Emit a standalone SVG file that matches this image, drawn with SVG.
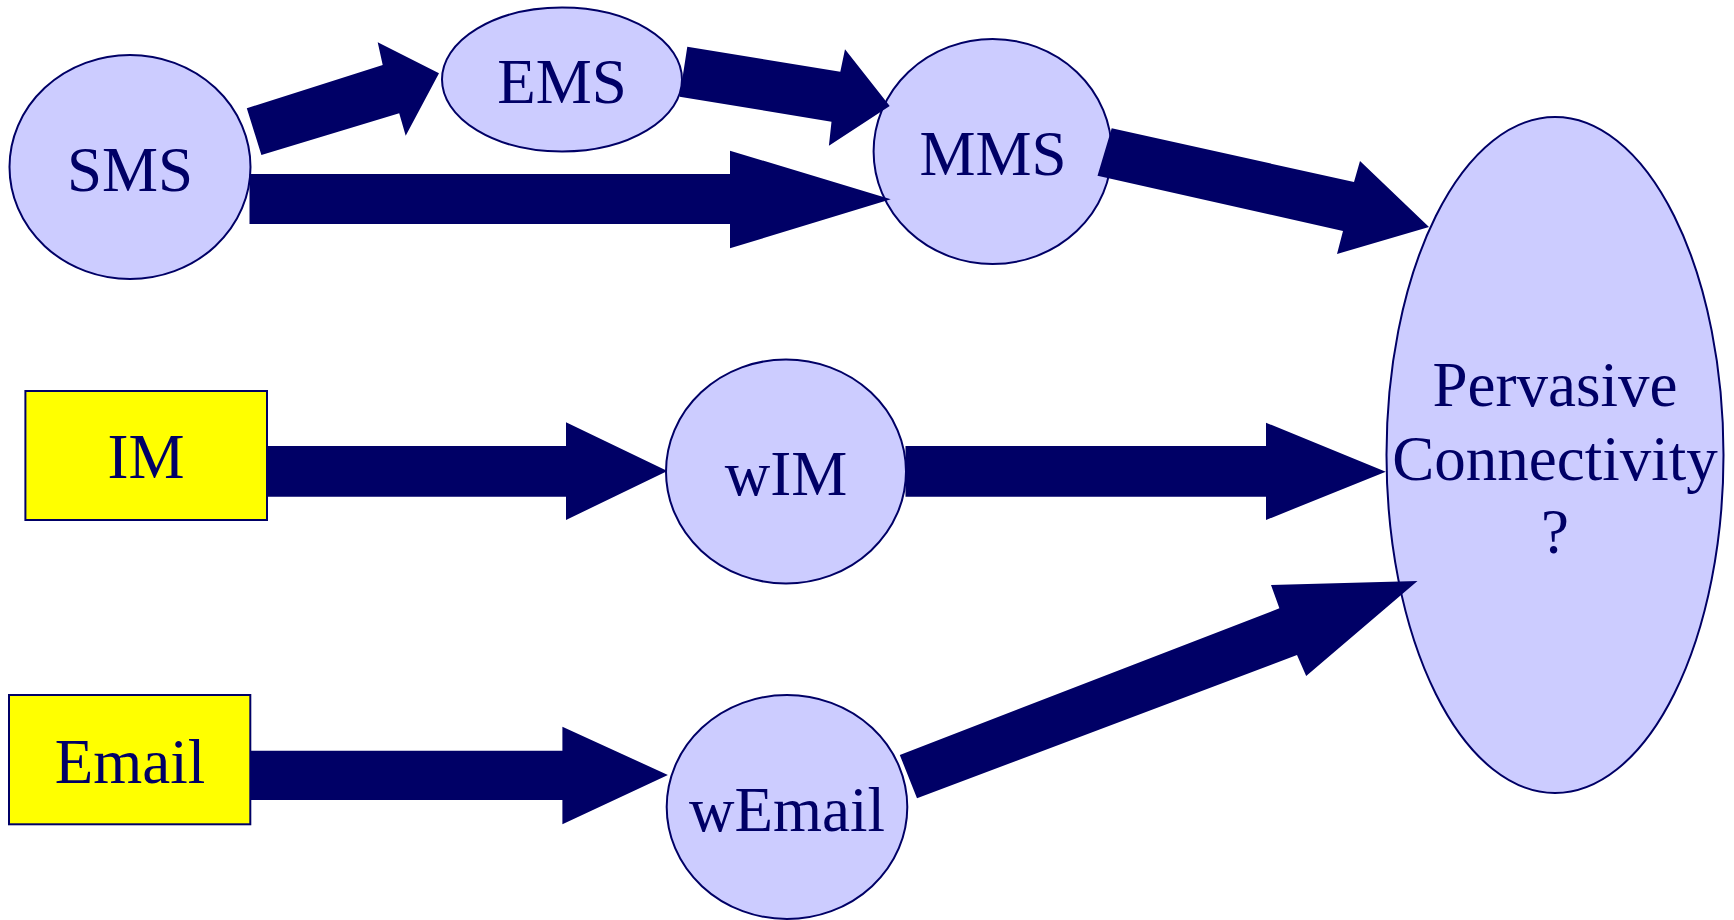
<svg xmlns="http://www.w3.org/2000/svg" width="1734" height="920" viewBox="0 0 1734 920">
  <style>
    .bubble { fill: #CCCCFF; stroke: #000066; stroke-width: 2; }
    .box { fill: #FFFF00; stroke: #000066; stroke-width: 2; }
    .label { font-family: "Liberation Serif", "Times New Roman", serif; font-size: 63px; fill: #000066; text-anchor: middle; }
    .arrow { fill: #000066; stroke: none; }
  </style>
  <rect width="1734" height="920" fill="#FFFFFF"/>

  <g id="node-sms">
    <ellipse class="bubble" cx="130" cy="167" rx="120.5" ry="112"/>
    <text class="label" x="130" y="191">SMS</text>
  </g>
  <g id="node-ems">
    <ellipse class="bubble" cx="562" cy="79.5" rx="120" ry="72"/>
    <text class="label" x="562" y="103">EMS</text>
  </g>
  <g id="node-mms">
    <ellipse class="bubble" cx="992.6" cy="151.5" rx="119" ry="112.5"/>
    <text class="label" x="993" y="175">MMS</text>
  </g>
  <g id="node-im">
    <rect class="box" x="25.4" y="391" width="241.6" height="129"/>
    <text class="label" x="146" y="478">IM</text>
  </g>
  <g id="node-wim">
    <ellipse class="bubble" cx="786" cy="471.5" rx="120" ry="112"/>
    <text class="label" x="786" y="495">wIM</text>
  </g>
  <g id="node-email">
    <rect class="box" x="9" y="695" width="241.3" height="129.3"/>
    <text class="label" x="130" y="783">Email</text>
  </g>
  <g id="node-wemail">
    <ellipse class="bubble" cx="787" cy="807" rx="120.3" ry="112"/>
    <text class="label" x="787" y="831">wEmail</text>
  </g>
  <g id="node-pervasive">
    <ellipse class="bubble" cx="1555" cy="455" rx="168.5" ry="338"/>
    <text class="label" x="1555" y="406">Pervasive</text>
    <text class="label" x="1555" y="480">Connectivity</text>
    <text class="label" x="1555" y="553">?</text>
  </g>

  <g id="connectors">
    <polygon class="arrow" points="246.8,108.3 382.7,65 377.7,42.3 439,73.3 405.7,135.7 399.2,113.3 261.4,155"/>
    <polygon class="arrow" points="249.5,174 730,174 730,150.7 890.8,199.3 730,248.3 730,224 249.5,224"/>
    <polygon class="arrow" points="687.3,46.7 840.3,71.7 845,49.3 889.7,106 828.9,145.7 831.5,121.7 679.6,96.7"/>
    <polygon class="arrow" points="1111.7,128.3 1354,182 1360,161 1429,227 1337,254 1343,231 1097.5,175.7"/>
    <polygon class="arrow" points="267,446 566,446 566,422.3 667.4,471 566,520 566,496.7 267,496.7"/>
    <polygon class="arrow" points="905.5,446 1266,446 1266,422.7 1385.8,471.7 1266,520 1266,496.7 905.5,496.7"/>
    <polygon class="arrow" points="250.3,750.7 562.4,750.7 562.4,726.7 667.9,775 562.4,824.3 562.4,800 250.3,800"/>
    <polygon class="arrow" points="899.8,755 1279.4,608.3 1271,585 1417.5,581 1306.2,676 1297,655 917,798.3"/>
  </g>
</svg>
